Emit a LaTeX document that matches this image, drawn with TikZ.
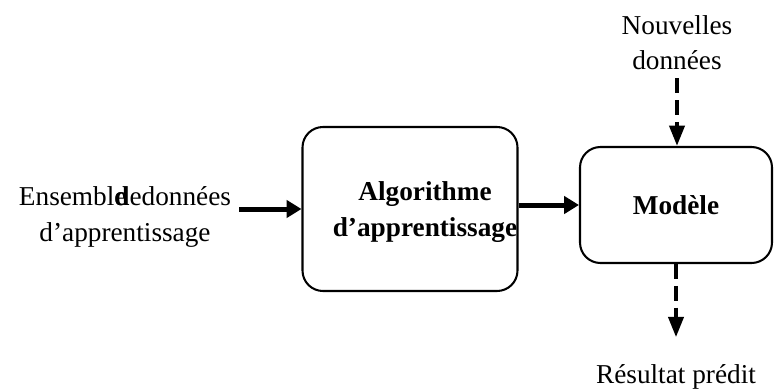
\documentclass[tikz,border=0pt]{standalone}
\usepackage{fontspec}
\setmainfont{Liberation Serif}
\usetikzlibrary{arrows.meta}

\begin{document}
\begin{tikzpicture}[x=0.44pt, y=-0.44pt,
  box/.style={rounded corners=9pt, draw, line width=0.9pt},
  txt/.style={align=center, font=\fontsize{12}{15.5}\selectfont},
  fat/.style={line width=2.2pt, -{Triangle[length=6.5pt, width=7.5pt]}},
  dashfat/.style={line width=1.8pt, dash pattern=on 6.6pt off 3pt, -{Triangle[length=9pt, width=6.6pt]}}]
\useasboundingbox (0,0) rectangle (774,390);

\node[txt] (A) at (125,217) {Ensembl\rlap{e}\textbf{d}edonnées\\d’apprentissage};
\node[box, minimum width=215*0.44pt, minimum height=164*0.44pt] (B) at (410,209) {};
\node[txt, font=\fontsize{12}{15.5}\selectfont\bfseries] (Btext) at (425,212) {Algorithme\\d’apprentissage};
\node[box, txt, font=\fontsize{12}{15.5}\selectfont\bfseries, minimum width=192*0.44pt, minimum height=116*0.44pt] (C) at (676,205) {Modèle};
\node[txt] (D) at (677,43) {Nouvelles\\données};
\node[txt] (E) at (676,377) {Résultat prédit};

\draw[fat] (A.east |- B.west) -- (B.west);
\draw[fat] (B.east |- C.west) -- (C.west);
\draw[dashfat] (D.south) -- (D.south |- C.north);
\draw[dashfat, shorten >=8.5pt] (C.south) -- (E.north);
\end{tikzpicture}
\end{document}
